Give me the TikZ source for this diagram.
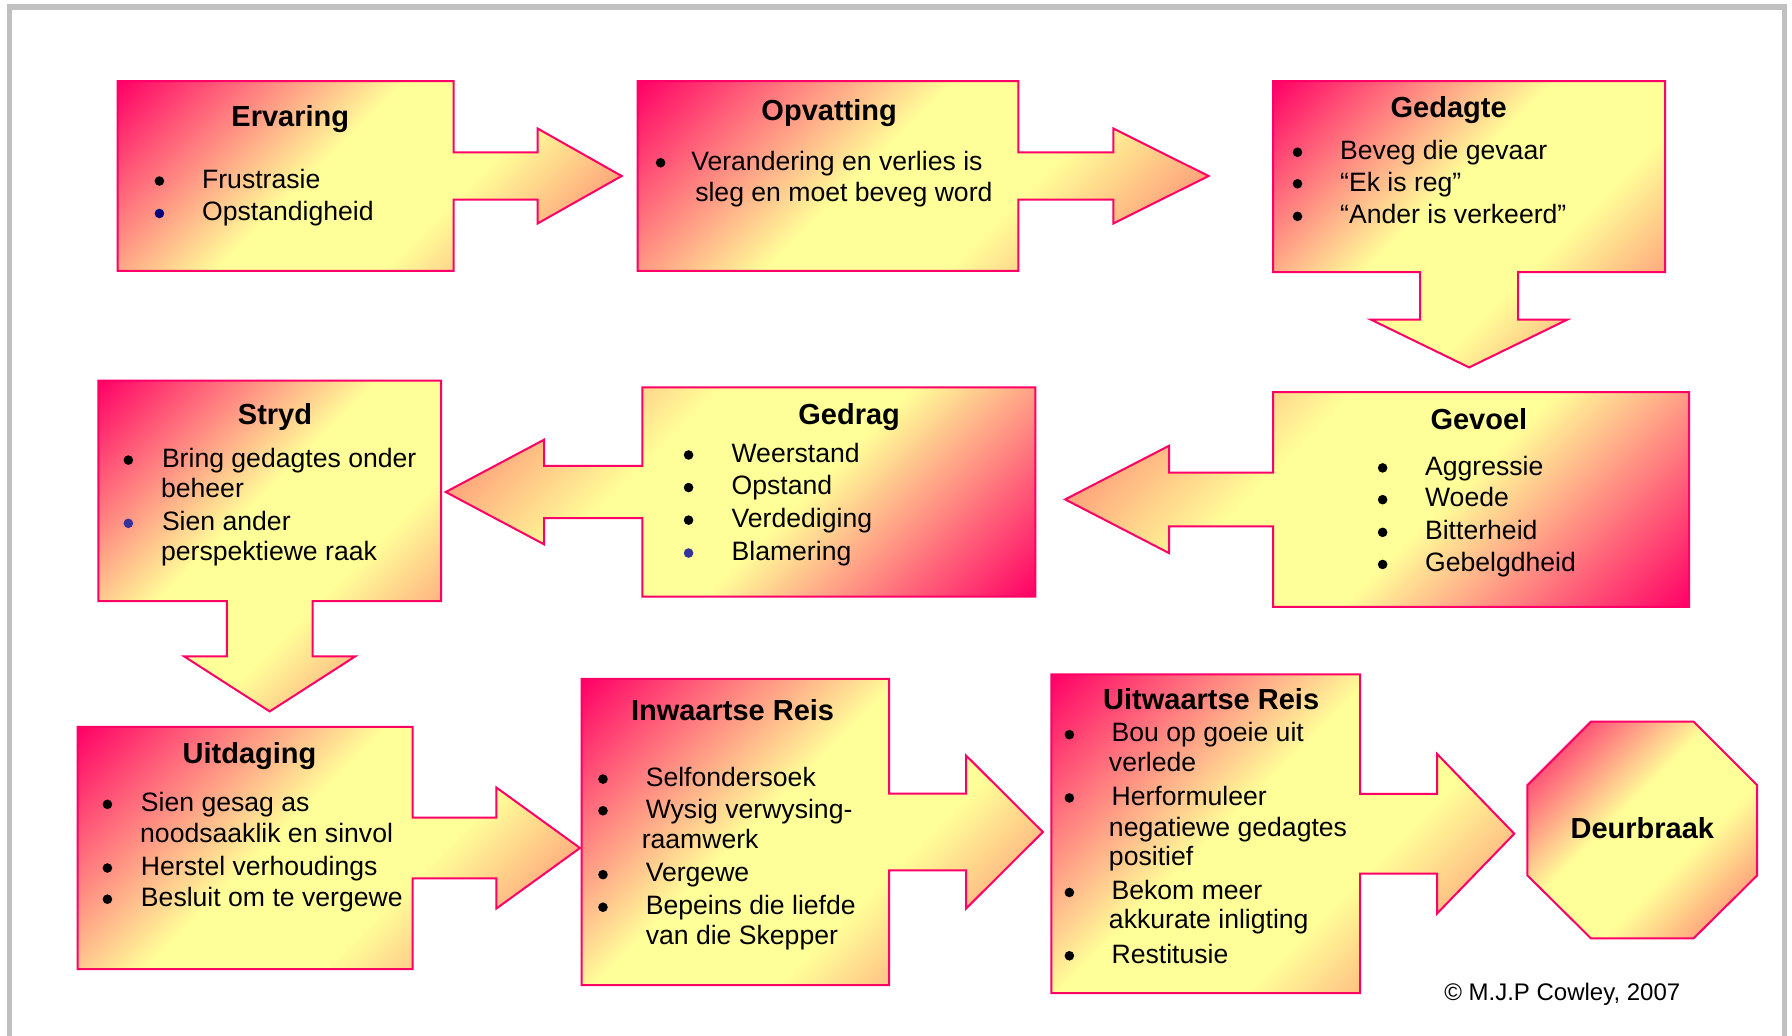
\documentclass[tikz,border=0pt]{standalone}
\usepackage{fontspec}
\setmainfont{Liberation Sans}

\definecolor{hotpink}{RGB}{255,0,102}
\definecolor{softsalmon}{RGB}{255,110,105}
\definecolor{paleyellow}{RGB}{255,255,153}
\definecolor{framegray}{RGB}{192,192,192}
\definecolor{navybullet}{RGB}{0,0,128}
\definecolor{bluebullet}{RGB}{51,51,153}

% pink -> yellow -> salmon diagonal glow used for every block
\pgfdeclarehorizontalshading{glow}{100bp}{color(0bp)=(hotpink); color(14.6bp)=(hotpink); color(44bp)=(paleyellow); color(61bp)=(paleyellow); color(85.4bp)=(softsalmon); color(100bp)=(softsalmon)}

\tikzset{
  block/.style={draw=hotpink, line width=1pt, shading=glow, shading angle=-45},
  flipped/.style={shading angle=135},
  ttl/.style={anchor=base, inner sep=0pt, font=\fontsize{14.5}{17}\selectfont\bfseries},
  itm/.style={anchor=base west, inner sep=0pt, font=\fontsize{13.3}{16}\selectfont},
  dot/.style={circle, fill=black, inner sep=0pt, minimum size=4.8pt},
}

% box with a block arrow on its right side: x1 y1 x2 y2
\newcommand\rightcallout[4]{%
  \path[block] (#1,#2) -- (#3,#2) -- (#3,{#2+0.375*(#4-#2)})
    -- ({#3+0.25*(#3-#1)},{#2+0.375*(#4-#2)}) -- ({#3+0.25*(#3-#1)},{#2+0.25*(#4-#2)})
    -- ({#3+0.5*(#3-#1)},{(#2+#4)/2})
    -- ({#3+0.25*(#3-#1)},{#2+0.75*(#4-#2)}) -- ({#3+0.25*(#3-#1)},{#2+0.625*(#4-#2)})
    -- (#3,{#2+0.625*(#4-#2)}) -- (#3,#4) -- (#1,#4) -- cycle;}
% box with a block arrow on its left side (the whole shape turned half round)
\newcommand\leftcallout[4]{%
  \path[block, flipped] (#1,#2) -- (#3,#2) -- (#3,#4) -- (#1,#4) -- (#1,{#2+0.625*(#4-#2)})
    -- ({#1-0.25*(#3-#1)},{#2+0.625*(#4-#2)}) -- ({#1-0.25*(#3-#1)},{#2+0.75*(#4-#2)})
    -- ({#1-0.5*(#3-#1)},{(#2+#4)/2})
    -- ({#1-0.25*(#3-#1)},{#2+0.25*(#4-#2)}) -- ({#1-0.25*(#3-#1)},{#2+0.375*(#4-#2)})
    -- (#1,{#2+0.375*(#4-#2)}) -- cycle;}
% box with a block arrow below it
\newcommand\downcallout[4]{%
  \path[block] (#1,#2) -- (#3,#2) -- (#3,#4) -- ({#1+0.625*(#3-#1)},#4)
    -- ({#1+0.625*(#3-#1)},{#4+0.25*(#4-#2)}) -- ({#1+0.75*(#3-#1)},{#4+0.25*(#4-#2)})
    -- ({(#1+#3)/2},{#4+0.5*(#4-#2)})
    -- ({#1+0.25*(#3-#1)},{#4+0.25*(#4-#2)}) -- ({#1+0.375*(#3-#1)},{#4+0.25*(#4-#2)})
    -- ({#1+0.375*(#3-#1)},#4) -- (#1,#4) -- cycle;}

\begin{document}
\begin{tikzpicture}[x=0.571428pt, y=-0.571428pt]
\useasboundingbox (0,0) rectangle (1568,906);
\fill[white] (0,0) rectangle (1568,906);
\clip (0,0) rectangle (1568,906);

% page frame
\draw[framegray, line width=2.6pt] (8.3,960) -- (8.3,6.1) -- (1561.5,6.1) -- (1561.5,960);

% ---------- row 1 ----------
\rightcallout{103}{71}{397}{237}
\node[ttl] (ervT) at (254,110.5) {Ervaring};
\node[dot] (ervB1) at (139.5,158.4) {};
\node[dot, fill=navybullet] (ervB2) at (139.5,186.8) {};
\node[itm] (ervL1) at (176.5,164.8) {Frustrasie};
\node[itm] (ervL2) at (176.5,193.2) {Opstandigheid};

\rightcallout{558}{71}{891}{237}
\node[ttl] (opvT) at (725.5,105) {Opvatting};
\node[dot] (opvB1) at (578,142.4) {};
\node[itm] (opvL1) at (604.5,148.8) {Verandering en verlies is};
\node[itm] (opvL2) at (608,176) {sleg en moet beveg word};

\downcallout{1114}{71}{1457}{238}
\node[ttl] (gdaT) at (1267.6,102.5) {Gedagte};
\node[dot] (gdaB1) at (1135.3,133.2) {};
\node[dot] (gdaB2) at (1135.3,160.8) {};
\node[dot] (gdaB3) at (1135.3,189.3) {};
\node[itm] (gdaL1) at (1172.3,139.6) {Beveg die gevaar};
\node[itm] (gdaL2) at (1172.3,167.2) {“Ek is reg”};
\node[itm] (gdaL3) at (1172.3,195.7) {“Ander is verkeerd”};

% ---------- row 2 ----------
\leftcallout{1114}{343}{1478}{531}
\node[ttl] (gvoT) at (1294,375.8) {Gevoel};
\node[dot] (gvoB1) at (1209.8,409.4) {};
\node[dot] (gvoB2) at (1209.8,437.2) {};
\node[dot] (gvoB3) at (1209.8,465.8) {};
\node[dot] (gvoB4) at (1209.8,493.9) {};
\node[itm] (gvoL1) at (1246.6,415.8) {Aggressie};
\node[itm] (gvoL2) at (1246.6,443.6) {Woede};
\node[itm] (gvoL3) at (1246.6,472.2) {Bitterheid};
\node[itm] (gvoL4) at (1246.6,500.3) {Gebelgdheid};

\leftcallout{562}{339}{906}{522}
\node[ttl] (gdrT) at (743,371.5) {Gedrag};
\node[dot] (gdrB1) at (602.5,398.1) {};
\node[dot] (gdrB2) at (602.5,426.6) {};
\node[dot] (gdrB3) at (602.5,455.1) {};
\node[dot, fill=bluebullet] (gdrB4) at (602.5,483.9) {};
\node[itm] (gdrL1) at (639.8,404.5) {Weerstand};
\node[itm] (gdrL2) at (639.8,433) {Opstand};
\node[itm] (gdrL3) at (639.8,461.5) {Verdediging};
\node[itm] (gdrL4) at (639.8,490.3) {Blamering};

\downcallout{86}{333}{386}{526}
\node[ttl] (strT) at (240.6,371) {Stryd};
\node[dot] (strB1) at (112.3,402.6) {};
\node[dot, fill=bluebullet] (strB2) at (112.3,457.9) {};
\node[itm] (strL1) at (141.4,409) {Bring gedagtes onder};
\node[itm] (strL2) at (140.6,435.2) {beheer};
\node[itm] (strL3) at (141.4,464.3) {Sien ander};
\node[itm] (strL4) at (140.6,490.5) {perspektiewe raak};

% ---------- row 3 ----------
\rightcallout{68}{636}{361}{848}
\node[ttl] (uitT) at (218.3,668.3) {Uitdaging};
\node[dot] (uitB1) at (94,703.8) {};
\node[dot] (uitB2) at (94,759.5) {};
\node[dot] (uitB3) at (94,786.8) {};
\node[itm] (uitL1) at (123,710.2) {Sien gesag as};
\node[itm] (uitL2) at (122.3,737.4) {noodsaaklik en sinvol};
\node[itm] (uitL3) at (123,765.9) {Herstel verhoudings};
\node[itm] (uitL4) at (123,793.2) {Besluit om te vergewe};

\rightcallout{509}{594}{778}{862}
\node[ttl] (inwT) at (641,630.4) {Inwaartse Reis};
\node[dot] (inwB1) at (527.6,681.7) {};
\node[dot] (inwB2) at (527.6,709.4) {};
\node[dot] (inwB3) at (527.6,765.3) {};
\node[dot] (inwB4) at (527.6,793.8) {};
\node[itm] (inwL1) at (564.7,688.1) {Selfondersoek};
\node[itm] (inwL2) at (564.7,715.8) {Wysig verwysing-};
\node[itm] (inwL3) at (561.2,742.6) {raamwerk};
\node[itm] (inwL4) at (564.7,771.7) {Vergewe};
\node[itm] (inwL5) at (564.7,800.2) {Bepeins die liefde};
\node[itm] (inwL6) at (564.7,826.5) {van die Skepper};

\rightcallout{920}{590}{1190}{869}
\node[ttl] (uwrT) at (1059.8,620.9) {Uitwaartse Reis};
\node[dot] (uwrB1) at (935.7,642.8) {};
\node[dot] (uwrB2) at (935.7,698.2) {};
\node[dot] (uwrB3) at (935.7,780.9) {};
\node[dot] (uwrB4) at (935.7,836.3) {};
\node[itm] (uwrL1) at (972.3,649.2) {Bou op goeie uit};
\node[itm] (uwrL2) at (970,675.4) {verlede};
\node[itm] (uwrL3) at (972.3,704.6) {Herformuleer};
\node[itm] (uwrL4) at (970,731.5) {negatiewe gedagtes};
\node[itm] (uwrL5) at (970,757.2) {positief};
\node[itm] (uwrL6) at (972.3,787.3) {Bekom meer};
\node[itm] (uwrL7) at (970,812.7) {akkurate inligting};
\node[itm] (uwrL8) at (972.3,842.7) {Restitusie};

% breakthrough octagon
\path[block] (1392,631.5) -- (1482,631.5) -- (1537.5,687) -- (1537.5,766)
  -- (1482,821) -- (1392,821) -- (1336.5,766) -- (1336.5,687) -- cycle;
\node[ttl] (deuT) at (1437,733.5) {Deurbraak};

\node[anchor=base, inner sep=0pt, font=\fontsize{12}{14}\selectfont] (copy) at (1367,875) {© M.J.P Cowley, 2007};
\end{tikzpicture}
\end{document}
